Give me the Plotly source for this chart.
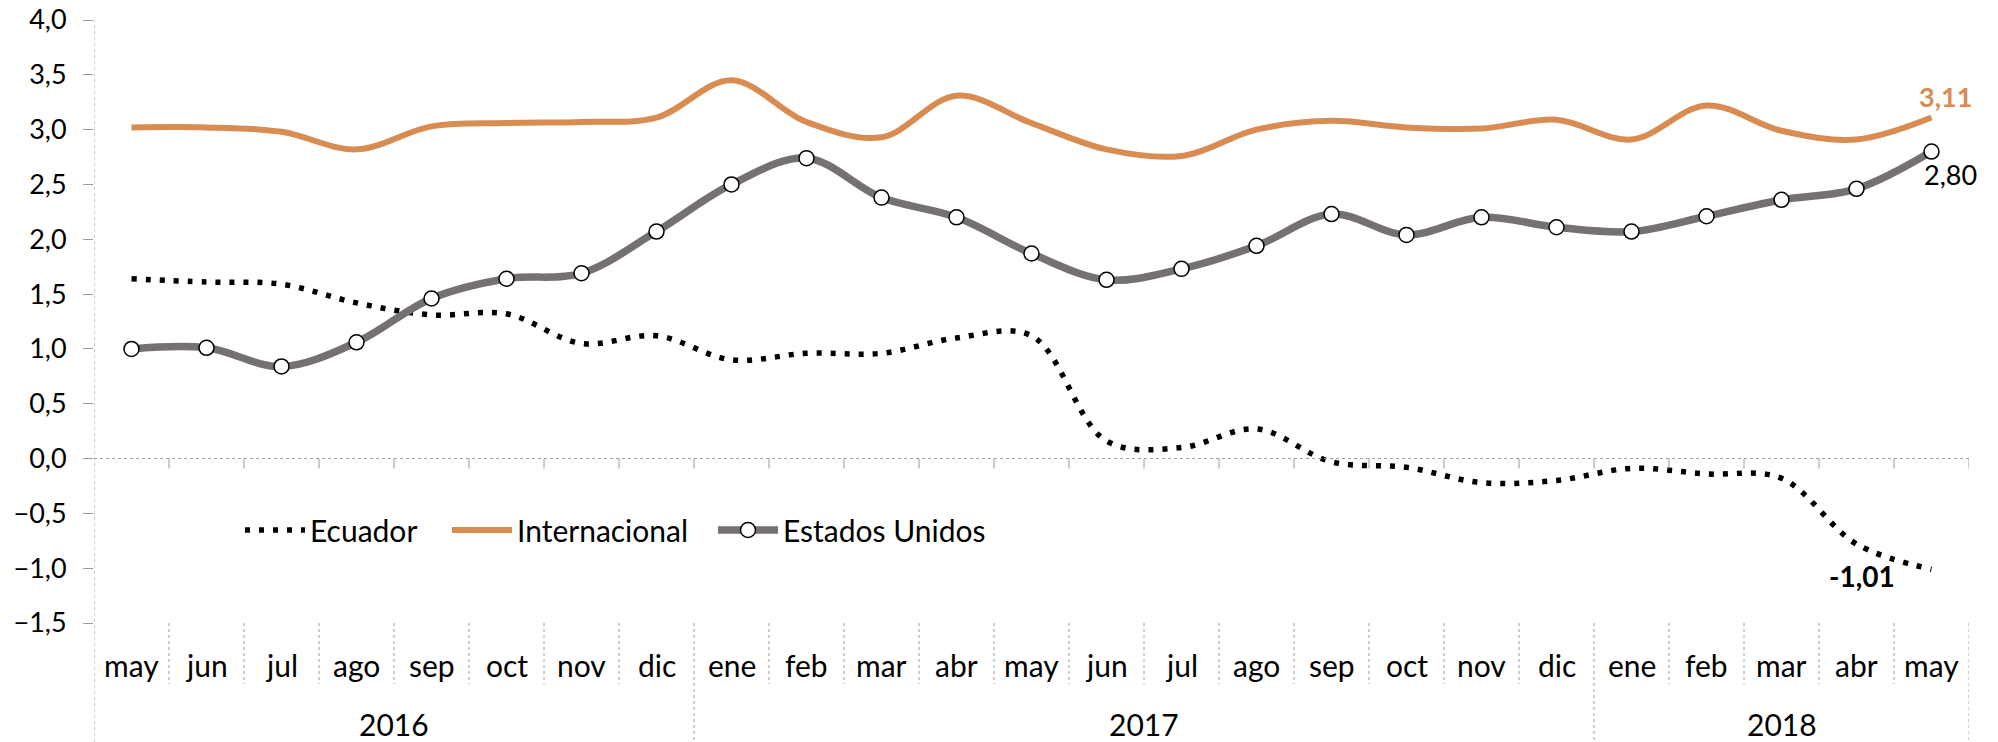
import plotly.graph_objects as go

# ---------------- data ----------------
months = ["may", "jun", "jul", "ago", "sep", "oct", "nov", "dic",
          "ene", "feb", "mar", "abr", "may", "jun", "jul", "ago", "sep", "oct", "nov", "dic",
          "ene", "feb", "mar", "abr", "may"]
years = [2016] * 8 + [2017] * 12 + [2018] * 5

ecuador = [1.64, 1.61, 1.59, 1.42, 1.31, 1.32, 1.05, 1.12, 0.90, 0.96, 0.96, 1.10, 1.12,
           0.16, 0.10, 0.27, -0.03, -0.08, -0.22, -0.20, -0.09, -0.14, -0.18, -0.78, -1.01]
internacional = [3.02, 3.02, 2.98, 2.82, 3.03, 3.06, 3.07, 3.11, 3.45, 3.07, 2.93, 3.31, 3.06,
                 2.82, 2.76, 3.00, 3.08, 3.02, 3.01, 3.09, 2.91, 3.22, 2.99, 2.91, 3.11]
estados_unidos = [1.00, 1.01, 0.84, 1.06, 1.46, 1.64, 1.69, 2.07, 2.50, 2.74, 2.38, 2.20, 1.87,
                  1.63, 1.73, 1.94, 2.23, 2.04, 2.20, 2.11, 2.07, 2.21, 2.36, 2.46, 2.80]

y_ticks = [-1.5, -1.0, -0.5, 0.0, 0.5, 1.0, 1.5, 2.0, 2.5, 3.0, 3.5, 4.0]

categories = [f"{m} {y}" for m, y in zip(months, years)]

# ---------------- style ----------------
FONT = "Lato, 'Open Sans', sans-serif"
ORANGE = "#D98C52"
GRAY = "#767171"
AXGRAY = "#9c9c9c"

W, H = 1998, 742
ML, MR, MT, MB = 94, 29, 20, 119
plot_w = W - ML - MR
plot_h = H - MT - MB
px_per_unit = plot_h / (y_ticks[-1] - y_ticks[0])

def fmt(v):
    return f"{v:.2f}".replace(".", ",")

fig = go.Figure()

fig.add_trace(go.Scatter(
    x=categories, y=ecuador, name="Ecuador", mode="lines", legend="legend",
    line=dict(color="black", width=5.5, dash="5px,9px", shape="spline", smoothing=1.0),
))
fig.add_trace(go.Scatter(
    x=categories, y=internacional, name="Internacional", mode="lines", legend="legend2",
    line=dict(color=ORANGE, width=6, shape="spline", smoothing=1.0),
))
fig.add_trace(go.Scatter(
    x=categories, y=estados_unidos, name="Estados Unidos", mode="lines+markers", legend="legend3",
    line=dict(color=GRAY, width=7.5, shape="spline", smoothing=1.0),
    marker=dict(size=15, color="white", line=dict(color="black", width=1.5)),
))

n = len(categories)
shapes = []
# y axis line (dotted), extends down through the label area
shapes.append(dict(type="line", xref="x", yref="paper", x0=-0.5, x1=-0.5,
                   y0=-MB / plot_h, y1=1, line=dict(color=AXGRAY, width=1, dash="dot")))
# zero line
shapes.append(dict(type="line", xref="x", yref="y", x0=-0.5, x1=n - 0.5, y0=0, y1=0,
                   line=dict(color=AXGRAY, width=1, dash="dot")))
# tick marks on the zero line
tick_units = 10 / px_per_unit
for k in range(n):
    shapes.append(dict(type="line", xref="x", yref="y", x0=k + 0.5, x1=k + 0.5,
                       y0=0, y1=-tick_units, line=dict(color=AXGRAY, width=1)))
# separators below the plot
for k in range(n):
    b = k + 0.5
    if k == n - 1 or years[k] != years[k + 1]:
        y0 = -MB / plot_h
    else:
        y0 = -61 / plot_h
    shapes.append(dict(type="line", xref="x", yref="paper", x0=b, x1=b, y0=0, y1=y0,
                       line=dict(color=AXGRAY, width=1, dash="dot")))

annotations = []
for i, m in enumerate(months):
    annotations.append(dict(x=i, y=-42 / plot_h, xref="x", yref="paper", text=m,
                            showarrow=False, xanchor="center", yanchor="middle",
                            font=dict(family=FONT, size=30, color="black")))
for yr in sorted(set(years)):
    idx = [i for i, y in enumerate(years) if y == yr]
    annotations.append(dict(x=(idx[0] + idx[-1]) / 2, y=-101 / plot_h, xref="x", yref="paper",
                            text=str(yr), showarrow=False, xanchor="center", yanchor="middle",
                            font=dict(family=FONT, size=30, color="black")))

last = n - 1
annotations.append(dict(x=last, y=internacional[-1], xref="x", yref="y", text=fmt(internacional[-1]),
                        showarrow=False, xshift=14, yshift=21,
                        font=dict(family=FONT, size=27, color=ORANGE, weight="bold")))
annotations.append(dict(x=last, y=estados_unidos[-1], xref="x", yref="y", text=fmt(estados_unidos[-1]),
                        showarrow=False, xshift=19, yshift=-23,
                        font=dict(family=FONT, size=27, color="black")))
annotations.append(dict(x=last, y=ecuador[-1], xref="x", yref="y", text=fmt(ecuador[-1]),
                        showarrow=False, xshift=-70, yshift=-7,
                        font=dict(family=FONT, size=28, color="black", weight="bold")))

legend_y = (H - MB - 530) / plot_h
def legend_at(px):
    return dict(orientation="h", x=(px - ML) / plot_w, y=legend_y,
                xanchor="left", yanchor="middle", bgcolor="rgba(0,0,0,0)",
                font=dict(family=FONT, size=30, color="black"), itemwidth=60)

fig.update_layout(
    width=W, height=H,
    margin=dict(l=ML, r=MR, t=MT, b=MB, autoexpand=False),
    paper_bgcolor="white", plot_bgcolor="white",
    separators=",.",
    font=dict(family=FONT, size=28, color="black"),
    showlegend=True,
    legend=legend_at(240),
    legend2=legend_at(447),
    legend3=legend_at(713),
    xaxis=dict(type="category", range=[-0.5, n - 0.5], showticklabels=False, ticks="",
               showgrid=False, zeroline=False, showline=False, categoryorder="array",
               categoryarray=categories, automargin=False),
    yaxis=dict(range=[y_ticks[0], y_ticks[-1]], tickvals=y_ticks, tickformat=".1f",
               ticks="outside", ticklen=10, tickcolor=AXGRAY, tickwidth=1,
               ticklabelstandoff=11, automargin=False,
               showgrid=False, zeroline=False, showline=False,
               tickfont=dict(family=FONT, size=27, color="black")),
    shapes=shapes,
    annotations=annotations,
)

fig.write_html("out.html",
               config={"displayModeBar": False},
               post_script="document.body.style.margin='0px';document.body.style.overflow='hidden';")
